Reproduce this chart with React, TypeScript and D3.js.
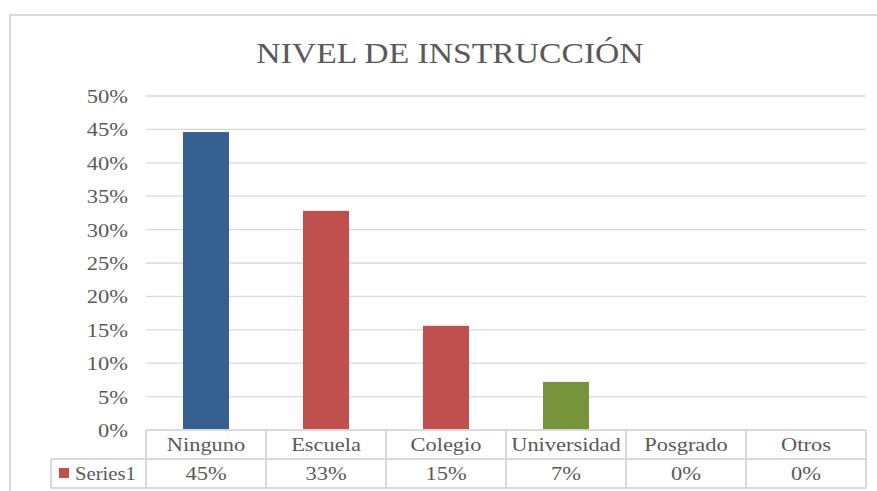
import React from "react";
import * as d3 from "d3";

const categories = ["Ninguno", "Escuela", "Colegio", "Universidad", "Posgrado", "Otros"];
const values = [0.446, 0.328, 0.156, 0.072, 0, 0];
const tableLabels = ["45%", "33%", "15%", "7%", "0%", "0%"];
const barColors = ["#36608F", "#C0504D", "#C0504D", "#77933C", "#C0504D", "#C0504D"];
const yTicks = [0, 0.05, 0.1, 0.15, 0.2, 0.25, 0.3, 0.35, 0.4, 0.45, 0.5];
const seriesName = "Series1";
const title = "NIVEL DE INSTRUCCIÓN";

const W = 877;
const H = 491;
const plotLeft = 146;
const plotRight = 866;
const plotTop = 96;
const plotBottom = 430;
const rowH = 29;
const textColor = "#595959";
const lineColor = "#D9D9D9";
const ts = { fontFamily: '"Liberation Serif"' };

type LProps = { x: number; y: number; sx: number; size: number; anchor?: "start" | "middle" | "end"; children: React.ReactNode };
function Label({ x, y, sx, size, anchor = "start", children }: LProps) {
  return (
    <g transform={`translate(${x},${y}) scale(${sx},1)`}>
      <text x={0} y={0} textAnchor={anchor} style={ts} fontSize={size} fill={textColor}>
        {children}
      </text>
    </g>
  );
}

export default function App() {
  const x = d3.scaleBand<string>().domain(categories).range([plotLeft, plotRight]).paddingInner(0).paddingOuter(0);
  const y = d3.scaleLinear().domain([0, 0.5]).range([plotBottom, plotTop]);
  const fmt = d3.format(".0%");
  const bw = 46;
  const edges = categories.map((c) => x(c)!).concat([plotRight]);

  return (
    <svg width={W} height={H} style={{ position: "absolute", left: 0, top: 0, background: "#fff" }}>
      <rect x={0} y={0} width={W} height={H} fill="#fff" />
      <rect x={10} y={15} width={920} height={520} fill="#fff" stroke={lineColor} strokeWidth={2} />
      <Label x={450} y={63} sx={1.16} size={29} anchor="middle">{title}</Label>
      {yTicks.map((t) => (
        <g key={t}>
          {t > 0 && (
            <line x1={plotLeft} x2={plotRight} y1={y(t)} y2={y(t)} stroke={lineColor} strokeWidth={1.3} />
          )}
          <Label x={128} y={y(t) + 7} sx={1.25} size={18} anchor="end">{fmt(t)}</Label>
        </g>
      ))}
      {categories.map((c, i) => (
        <rect
          key={c}
          x={x(c)! + x.bandwidth() / 2 - bw / 2}
          y={y(values[i])}
          width={bw}
          height={plotBottom - y(values[i])}
          fill={barColors[i]}
        />
      ))}
      <g stroke={lineColor} strokeWidth={2} fill="none">
        <line x1={plotLeft} x2={plotRight} y1={plotBottom} y2={plotBottom} />
        <line x1={51} x2={plotRight} y1={plotBottom + rowH} y2={plotBottom + rowH} />
        <line x1={51} x2={plotRight} y1={plotBottom + 2 * rowH} y2={plotBottom + 2 * rowH} />
        <line x1={51} x2={51} y1={plotBottom + rowH} y2={plotBottom + 2 * rowH} />
        {edges.map((e, i) => (
          <line key={i} x1={e} x2={e} y1={plotBottom} y2={plotBottom + 2 * rowH} />
        ))}
      </g>
      {categories.map((c, i) => (
        <g key={c}>
          <Label x={x(c)! + x.bandwidth() / 2} y={plotBottom + 21} sx={1.15} size={19.5} anchor="middle">{c}</Label>
          <Label x={x(c)! + x.bandwidth() / 2} y={plotBottom + rowH + 21} sx={1.25} size={18} anchor="middle">{tableLabels[i]}</Label>
        </g>
      ))}
      <rect x={59} y={468} width={10} height={10} fill="#C0504D" />
      <Label x={75} y={plotBottom + rowH + 21} sx={1.09} size={19}>{seriesName}</Label>
    </svg>
  );
}
